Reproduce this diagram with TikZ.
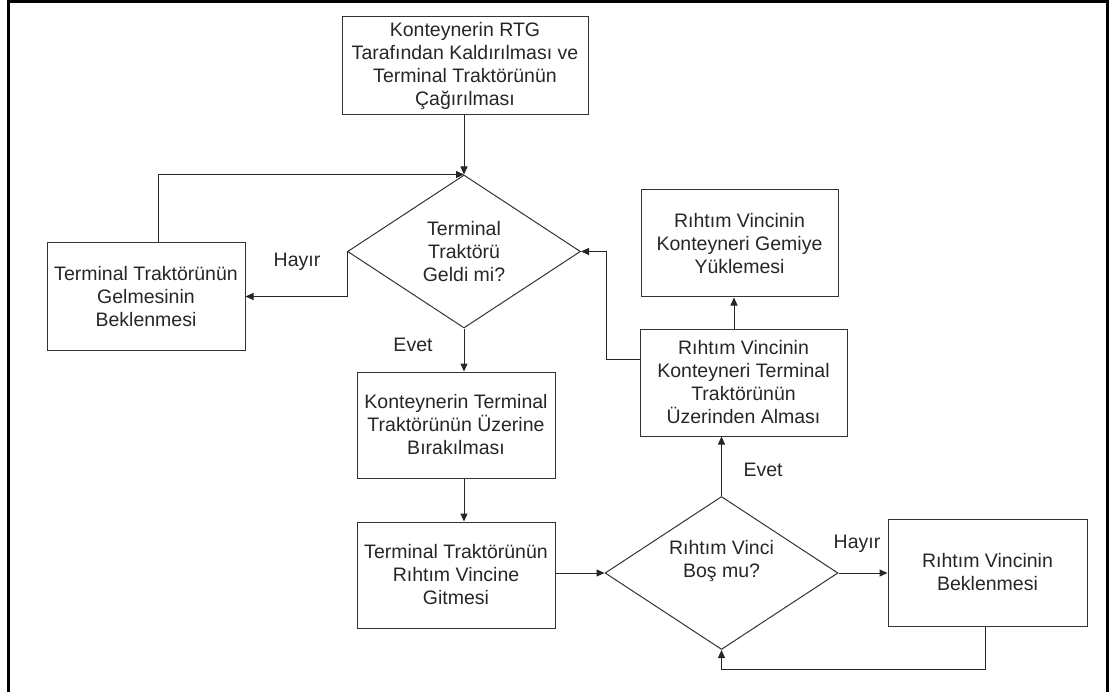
\documentclass[tikz,border=0pt]{standalone}
\usepackage{fontspec}
\setmainfont{Liberation Sans}
\usetikzlibrary{shapes.geometric,arrows.meta}
\begin{document}
\begin{tikzpicture}[x=1pt,y=-1pt,
  txt/.style={font=\fontsize{19.5}{23}\selectfont, text=black!85},
  box/.style={txt, draw=black!80, line width=1pt, inner sep=0pt, align=center},
  dec/.style={diamond, draw=black!80, line width=1pt, inner sep=0pt,
    minimum width=233pt, minimum height=153pt},
  arr/.style={draw=black!85, line width=1pt, -{Triangle[length=8pt,width=7pt]}},
  ln/.style={draw=black!85, line width=1pt}]
\useasboundingbox (0,0) rectangle (1115,692);
\draw[line width=3pt] (8,710) -- (8,1.5) -- (1107,1.5) -- (1107,710);

\node[box, minimum width=246pt, minimum height=98pt] (top) at (465,66)
  {Konteynerin RTG\\Tarafından Kaldırılması ve\\Terminal Traktörünün\\Çağırılması};
\node[dec, txt, align=center] (d1) at (464,251.5) {Terminal\\Traktörü\\Geldi mi?};
\node[box, minimum width=198pt, minimum height=107pt] (lb) at (146,296.5)
  {Terminal Traktörünün\\Gelmesinin\\Beklenmesi};
\node[box, minimum width=198pt, minimum height=106pt] (b3) at (456,425)
  {Konteynerin Terminal\\Traktörünün Üzerine\\Bırakılması};
\node[box, minimum width=198pt, minimum height=106pt] (b4) at (456,575)
  {Terminal Traktörünün\\Rıhtım Vincine\\Gitmesi};
\node[dec] (d2) at (721.5,573) {};
\node[txt, align=center] (d2t) at (721.5,561) {Rıhtım Vinci\\Boş mu?};
\node[box, minimum width=199pt, minimum height=107pt] (rb) at (987.5,572.5)
  {Rıhtım Vincinin\\Beklenmesi};
\node[box, minimum width=207pt, minimum height=107pt] (b5) at (743.5,382.5)
  {Rıhtım Vincinin\\Konteyneri Terminal\\Traktörünün\\Üzerinden Alması};
\node[box, minimum width=197pt, minimum height=107pt] (b6) at (739.5,243.5)
  {Rıhtım Vincinin\\Konteyneri Gemiye\\Yüklemesi};

\node[txt] (h1) at (297,262) {Hayır};
\node[txt] (e1) at (413,345) {Evet};
\node[txt] (e2) at (763,470) {Evet};
\node[txt] (h2) at (857,544) {Hayır};

\coordinate (c1) at (158,175);
\coordinate (c2) at (985,669);
\coordinate (c3) at (734,300);
\coordinate (c4) at (606,359);

\draw[arr] (d1.north |- top.south) -- (d1.north);
\draw[arr] (c1 |- lb.north) |- (d1.north);
\draw[arr] (d1.west) |- (lb.east);
\draw[arr] (d1.south) -- (d1.south |- b3.north);
\draw[arr] (b3.south -| d1.south) -- (b4.north -| d1.south);
\draw[arr] (b4.east |- d2.west) -- (d2.west);
\draw[arr] (d2.east) -- (rb.west |- d2.east);
\draw[arr] (c2 |- rb.south) -- (c2) -| (d2.south);
\draw[arr] (d2.north) -- (d2.north |- b5.south);
\draw[arr] (c3 |- b5.north) -- (c3 |- b6.south);
\draw[arr] (b5.west |- c4) -- (c4) |- (d1.east);
\end{tikzpicture}
\end{document}
